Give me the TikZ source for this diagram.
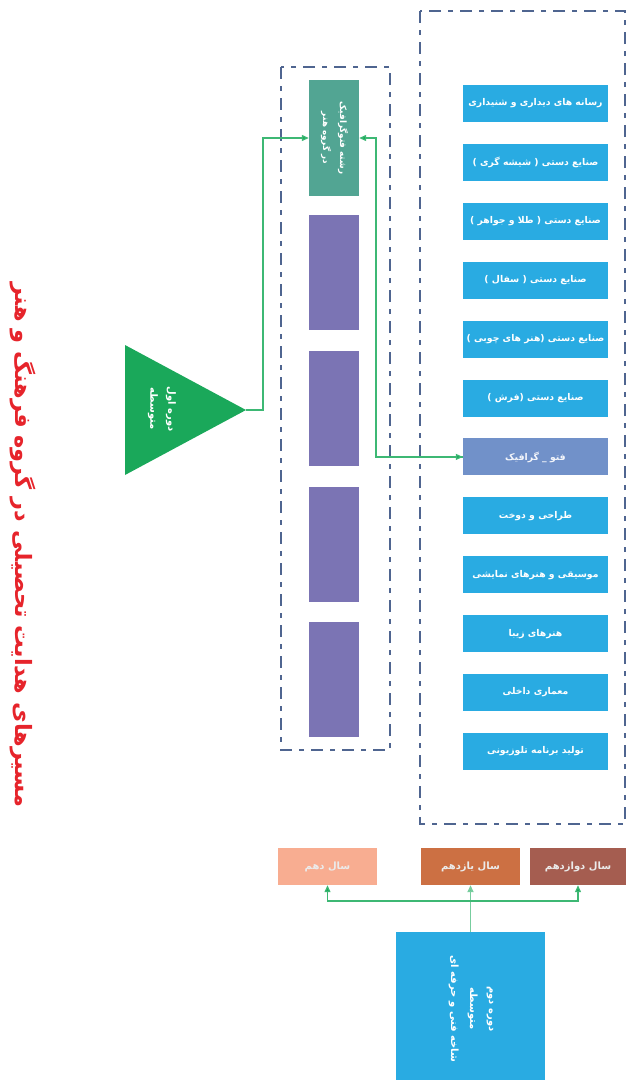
\documentclass[tikz,border=0pt]{standalone}
\usepackage{fontspec}
\usetikzlibrary{arrows.meta}
\TeXXeTstate=1
\newfontfamily\arabicfont[Script=Arabic]{DejaVu Sans}
\newcommand{\fa}[1]{\beginR #1\endR}
\definecolor{skyb}{HTML}{29ABE2}
\definecolor{photob}{HTML}{7191C9}
\definecolor{tealb}{HTML}{52A593}
\definecolor{purpb}{HTML}{7B74B4}
\definecolor{trig}{HTML}{1AA85A}
\definecolor{dashc}{HTML}{4F6590}
\definecolor{connc}{HTML}{3DB874}
\definecolor{titlered}{HTML}{E6242B}
\definecolor{y10}{HTML}{F8AD91}
\definecolor{y11}{HTML}{CC7043}
\definecolor{y12}{HTML}{A55D50}
\tikzset{
  frame/.style={draw=dashc, line width=2pt, dash pattern=on 12pt off 7pt on 5pt off 7pt},
  item/.style={fill=skyb, minimum width=145pt, minimum height=37pt, inner sep=0pt, text=white,
    font=\arabicfont\bfseries\fontsize{9.3}{11}\selectfont},
  vbox/.style={minimum width=50pt, minimum height=115pt, inner sep=0pt},
  yearbox/.style={minimum height=37pt, inner sep=0pt, text=white!92!black,
    font=\arabicfont\bfseries\fontsize{10}{11}\selectfont},
  conn/.style={draw=connc, line width=1.2pt},
  tip/.style={-{Triangle[length=7pt,width=6pt,fill=trig]}}
}
\begin{document}
\begin{tikzpicture}[x=1pt,y=-1pt]
\useasboundingbox (0,0) rectangle (626,1080);
% frames
\draw[frame] (420,11) rectangle (625,824);
\draw[frame] (281,67) rectangle (390,750);
% list items
\node[item] (i1) at (535.5,103.5) {\fa{رسانه های دیداری و شنیداری}};
\node[item] (i2) at (535.5,162.4) {\fa{صنایع دستی ( شیشه گری )}};
\node[item] (i3) at (535.5,221.3) {\fa{صنایع دستی ( طلا و جواهر )}};
\node[item] (i4) at (535.5,280.2) {\fa{صنایع دستی ( سفال )}};
\node[item] (i5) at (535.5,339.1) {\fa{صنایع دستی (هنر های چوبی )}};
\node[item] (i6) at (535.5,398.0) {\fa{صنایع دستی (فرش )}};
\node[item, fill=photob, text=white!92!photob] (photo) at (535.5,456.9) {\fa{فتو \_ گرافیک}};
\node[item] (i8) at (535.5,515.8) {\fa{طراحی و دوخت}};
\node[item] (i9) at (535.5,574.7) {\fa{موسیقی و هنرهای نمایشی}};
\node[item] (i10) at (535.5,633.6) {\fa{هنرهای زیبا}};
\node[item] (i11) at (535.5,692.5) {\fa{معماری داخلی}};
\node[item] (i12) at (535.5,751.4) {\fa{تولید برنامه تلوزیونی}};
% middle column
\node[vbox, fill=tealb, minimum height=116pt] (green) at (334,138) {};
\node[rotate=-90, text=white, align=center, font=\arabicfont\bfseries\fontsize{8.8}{17}\selectfont] (greent) at (334.5,138) {\fa{رشته فتوگرافیک}\\\fa{در گروه هنر}};
\node[vbox, fill=purpb] (p1) at (334,272.5) {};
\node[vbox, fill=purpb] (p2) at (334,408.5) {};
\node[vbox, fill=purpb] (p3) at (334,544.5) {};
\node[vbox, fill=purpb] (p4) at (334,679.5) {};
% triangle
\coordinate (tA) at (125,345);
\coordinate (tB) at (125,475);
\coordinate (tip1) at (246,410);
\fill[trig] (tA) -- (tip1) -- (tB) -- cycle;
\node[rotate=-90, text=white, align=center, font=\arabicfont\bfseries\fontsize{10}{18}\selectfont] (tri) at (162,409) {\fa{دوره اول}\\\fa{متوسطه}};
% connectors
\coordinate (c1) at (263,0);
\coordinate (c2) at (376,0);
\draw[conn, tip] (tip1) -- (c1 |- tip1) |- (green.west);
\draw[conn, tip] (photo.west) -- (c2 |- photo.west) |- (green.east);
\draw[conn, tip] (c2 |- photo.west) -- (photo.west);
% title
\node[rotate=-90, text=titlered, font=\arabicfont\bfseries\fontsize{22.5}{26}\selectfont] (title) at (23,545) {\fa{مسیرهای هدایت تحصیلی در گروه فرهنگ و هنر}};
% years
\node[yearbox, fill=y10, minimum width=99pt] (y1) at (327.5,866.5) {\fa{سال دهم}};
\node[yearbox, fill=y11, minimum width=99pt] (y2) at (470.5,866.5) {\fa{سال یازدهم}};
\node[yearbox, fill=y12, minimum width=96pt] (y3) at (578,866.5) {\fa{سال دوازدهم}};
% bottom box
\node[fill=skyb, minimum width=149pt, minimum height=148pt, inner sep=0pt] (bb) at (470.5,1006) {};
\node[rotate=-90, text=white, align=center, font=\arabicfont\bfseries\fontsize{10}{19}\selectfont] (bbt) at (471,1009) {\fa{دوره دوم}\\\fa{متوسطه}\\\fa{شاخه فنی و حرفه ای}};
\coordinate (j) at (470.5,901);
\draw[conn, line width=1.8pt, draw=connc!70, tip] (bb.north) -- (y2.south);
\draw[conn, tip] (j) -| (y1.south);
\draw[conn, tip] (j) -| (y3.south);
\end{tikzpicture}
\end{document}
